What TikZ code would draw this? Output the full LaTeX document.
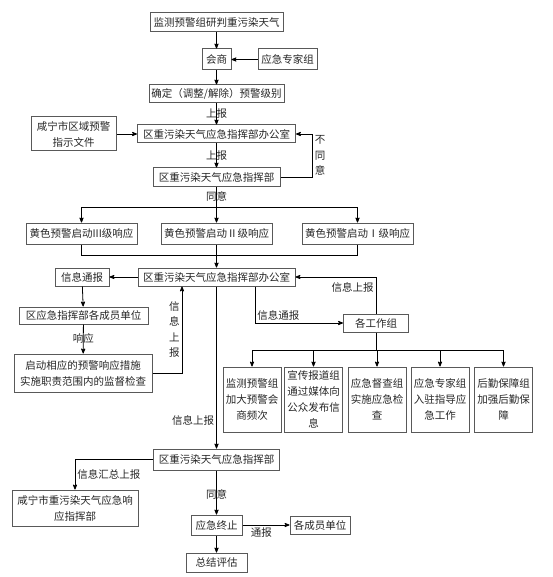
\documentclass[tikz,border=0pt]{standalone}
\usepackage{fontspec}
\newfontfamily\cjk{Noto Sans CJK SC}
\usepackage{tikz}
\usetikzlibrary{arrows}

\begin{document}
\begin{tikzpicture}[>=stealth', x=1pt, y=-1pt,
    box/.style={rectangle, draw=black!65, line width=1pt, text=black!85,
                font=\cjk\fontsize{10.5}{16}\selectfont, inner sep=1pt, align=center},
    lbl/.style={text=black!85, font=\cjk\fontsize{10.5}{16}\selectfont,
                inner sep=2pt, align=center},
    conn/.style={draw, line width=0.8pt}]

    \useasboundingbox (0,0) rectangle (552,577);

    % upper part
    \node[box, minimum width=133pt, minimum height=19pt] (jiance) at (216.5,22.5) {监测预警组研判重污染天气};
    \node[box, minimum width=29pt, minimum height=21pt] (huishang) at (216.5,59.5) {会商};
    \node[box, minimum width=59pt, minimum height=21pt] (zhuanjia) at (287.5,59.5) {应急专家组};
    \node[box, minimum width=135pt, minimum height=18pt] (jibie) at (216.5,94) {确定（调整/解除）预警级别};
    \node[box, minimum width=85pt, minimum height=34pt] (wenjian) at (73.5,134) {咸宁市区域预警\\指示文件};
    \node[box, minimum width=158pt, minimum height=18pt] (bgs1) at (216.5,134) {区重污染天气应急指挥部办公室};
    \node[box, minimum width=127pt, minimum height=19pt] (zhb1) at (216.5,177.5) {区重污染天气应急指挥部};

    % response levels
    \node[box, minimum width=111pt, minimum height=21pt] (resp3) at (81.5,233.5) {黄色预警启动III级响应};
    \node[box, minimum width=111pt, minimum height=21pt] (resp2) at (216.5,233.5) {黄色预警启动Ⅱ级响应};
    \node[box, minimum width=111pt, minimum height=21pt] (resp1) at (357.5,233.5) {黄色预警启动Ⅰ级响应};

    % office and left branch
    \node[box, minimum width=157pt, minimum height=18pt] (bgs2) at (216.5,277) {区重污染天气应急指挥部办公室};
    \node[box, minimum width=54pt, minimum height=18pt] (tongbao) at (82,277) {信息通报};
    \node[box, minimum width=129pt, minimum height=17pt] (chengyuan) at (83.5,315.5) {区应急指挥部各成员单位};
    \node[box, minimum width=138pt, minimum height=38pt] (cuoshi) at (83,373) {启动相应的预警响应措施\\实施职责范围内的监督检查};

    % working groups
    \node[box, minimum width=65pt, minimum height=18pt] (gongzuo) at (376,323) {各工作组};
    \node[box, minimum width=58pt, minimum height=65pt] (g1) at (252,399.5) {监测预警组\\加大预警会\\商频次};
    \node[box, minimum width=58pt, minimum height=65pt, inner sep=0pt] (g2) at (313.5,399.5) {宣传报道组\\通过媒体向\\公众发布信\\息};
    \node[box, minimum width=58pt, minimum height=65pt] (g3) at (377,399.5) {应急督查组\\实施应急检\\查};
    \node[box, minimum width=58pt, minimum height=65pt] (g4) at (440,399.5) {应急专家组\\入驻指导应\\急工作};
    \node[box, minimum width=58pt, minimum height=65pt] (g5) at (503.5,399.5) {后勤保障组\\加强后勤保\\障};

    % lower part
    \node[box, minimum width=126pt, minimum height=21pt] (zhb2) at (216.5,459.5) {区重污染天气应急指挥部};
    \node[box, minimum width=126pt, minimum height=36pt] (xianning) at (75,508) {咸宁市重污染天气应急响\\应指挥部};
    \node[box, minimum width=51pt, minimum height=20pt] (zhongzhi) at (216.5,525) {应急终止};
    \node[box, minimum width=60pt, minimum height=18pt] (chengyuan2) at (320,525) {各成员单位};
    \node[box, minimum width=61pt, minimum height=19pt] (pinggu) at (216.5,562.5) {总结评估};

    \coordinate (fork1) at (216.5,207);
    \coordinate (join1) at (216.5,255);
    \coordinate (fork2) at (376,350);

    \path[conn, ->] (jiance) -- (huishang);
    \path[conn, ->] (zhuanjia) -- (huishang);
    \path[conn, ->] (huishang) -- (jibie);
    \path[conn, ->] (jibie) -- (bgs1) node[lbl, midway] {上报};
    \path[conn, ->] (wenjian) -- (bgs1);
    \path[conn, ->] (bgs1) -- (zhb1) node[lbl, midway] {上报};
    \path[conn, ->] (zhb1.east) -- ++(32,0) |- (bgs1.east)
        node[lbl, pos=0.25, right, font=\cjk\fontsize{10.5}{15.5}\selectfont] {不\\同\\意};

    \path[conn] (zhb1) -- (fork1) node[lbl, pos=0.45] {同意};
    \path[conn, ->] (fork1) -| (resp3);
    \path[conn, ->] (fork1) -- (resp2);
    \path[conn, ->] (fork1) -| (resp1);
    \path[conn] (resp3) |- (join1);
    \path[conn] (resp1) |- (join1);
    \path[conn, ->] (resp2) -- (bgs2);

    \path[conn, ->] (bgs2) -- (tongbao);
    \path[conn, ->] (tongbao) -- (chengyuan);
    \path[conn, ->] (chengyuan) -- (cuoshi) node[lbl, midway] {响应};
    \path[conn, ->] (cuoshi.east) -| ([xshift=-34.5]bgs2.south)
        node[lbl, pos=0.75, left, font=\cjk\fontsize{10.5}{15.5}\selectfont] {信\\息\\上\\报};

    \path[conn, ->] ([xshift=38.5]bgs2.south) |- (gongzuo.west)
        node[lbl, pos=0.5, anchor=south west] {信息通报};
    \path[conn, ->] (gongzuo.north) |- (bgs2.east)
        node[lbl, pos=0.35, left] {信息上报};
    \path[conn] (gongzuo) -- (fork2);
    \foreach \g in {g1,g2,g3,g4,g5}
        \path[conn, ->] (fork2) -| (\g.north);

    \path[conn, ->] (bgs2) -- (zhb2) node[lbl, pos=0.83, left] {信息上报};
    \path[conn, ->] (zhb2.west) -| (xianning.north)
        node[lbl, pos=0.75, right] {信息汇总上报};
    \path[conn, ->] (zhb2) -- (zhongzhi) node[lbl, pos=0.55] {同意};
    \path[conn, ->] (zhongzhi) -- (chengyuan2) node[lbl, pos=0.4, below] {通报};
    \path[conn, ->] (zhongzhi) -- (pinggu);

\end{tikzpicture}
\end{document}
